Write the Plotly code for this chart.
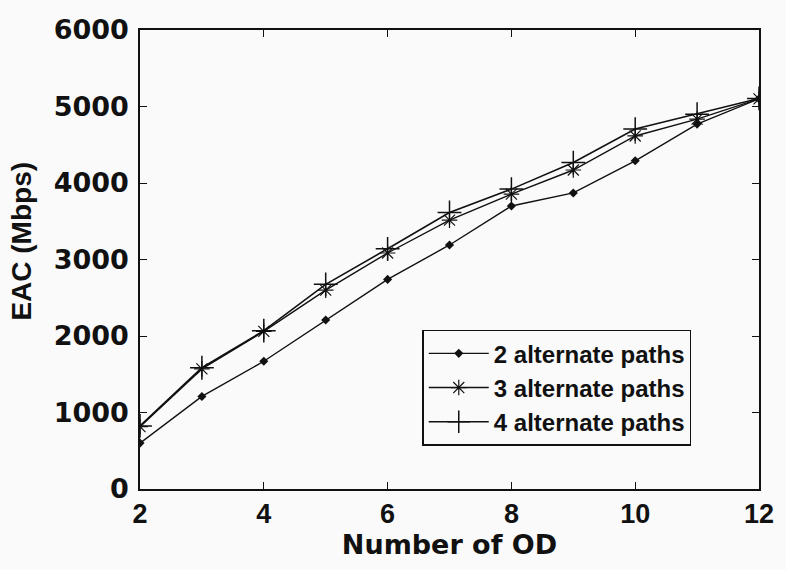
import plotly.graph_objects as go

od = [2, 3, 4, 5, 6, 7, 8, 9, 10, 11, 12]
paths2 = [600, 1210, 1670, 2210, 2740, 3190, 3700, 3870, 4290, 4770, 5100]
paths3 = [815, 1570, 2060, 2600, 3085, 3515, 3855, 4170, 4615, 4835, 5100]
paths4 = [825, 1585, 2070, 2675, 3140, 3615, 3920, 4267, 4705, 4900, 5105]
names = ["2 alternate paths", "3 alternate paths", "4 alternate paths"]

xticks = [2, 4, 6, 8, 10, 12]
yticks = [0, 1000, 2000, 3000, 4000, 5000, 6000]

fig = go.Figure()
fig.add_trace(go.Scatter(x=od, y=paths2, name=names[0], mode="lines+markers",
                         line=dict(color="#111", width=1.4),
                         marker=dict(symbol="diamond", size=7, color="#111")))
fig.add_trace(go.Scatter(x=od, y=paths3, name=names[1], mode="lines+markers",
                         line=dict(color="#111", width=1.4),
                         marker=dict(symbol="asterisk-open", size=13,
                                     line=dict(color="#111", width=1.2))))
fig.add_trace(go.Scatter(x=od, y=paths4, name=names[2], mode="lines+markers",
                         line=dict(color="#111", width=1.6),
                         marker=dict(symbol="cross-thin-open", size=17,
                                     line=dict(color="#111", width=1.5))))

fig.update_layout(
    width=786, height=570,
    margin=dict(l=140, r=21, t=30, b=81),
    paper_bgcolor="#fafafa", plot_bgcolor="#fafafa",
    showlegend=True,
    legend=dict(x=0.456, y=0.347, xanchor="left", yanchor="top",
                bgcolor="#fafafa", bordercolor="#111", borderwidth=1.5,
                font=dict(family="Liberation Sans, Arial", size=24, color="#111",
                          weight="bold"),
                itemwidth=60, tracegroupgap=0),
    xaxis=dict(range=[2, 12], tickvals=xticks, ticks="inside", ticklen=7,
               showgrid=False, zeroline=False, showline=True, mirror="ticks",
               linecolor="#111", linewidth=1.5, tickcolor="#111",
               tickfont=dict(family="Liberation Sans, Arial",
                             size=27, color="#111", weight="bold"),
               title=dict(text="<b>Number of OD</b>", standoff=2,
                          font=dict(family="DejaVu Sans", size=27, color="#111"))),
    yaxis=dict(range=[0, 6000], tickvals=yticks, ticks="inside", ticklen=7,
               showgrid=False, zeroline=False, showline=True, mirror="ticks",
               linecolor="#111", linewidth=1.5, tickcolor="#111",
               ticklabelstandoff=4,
               tickfont=dict(family="DejaVu Sans", size=27, color="#111", weight="bold")),
    annotations=[dict(text="<b>EAC (Mbps)</b>", textangle=-90, showarrow=False,
                      xref="paper", yref="paper", x=0, y=0.539,
                      xanchor="center", yanchor="middle", xshift=-118,
                      font=dict(family="Liberation Sans, Arial", size=28, color="#111"))],
)

fig.write_html("out.html")
